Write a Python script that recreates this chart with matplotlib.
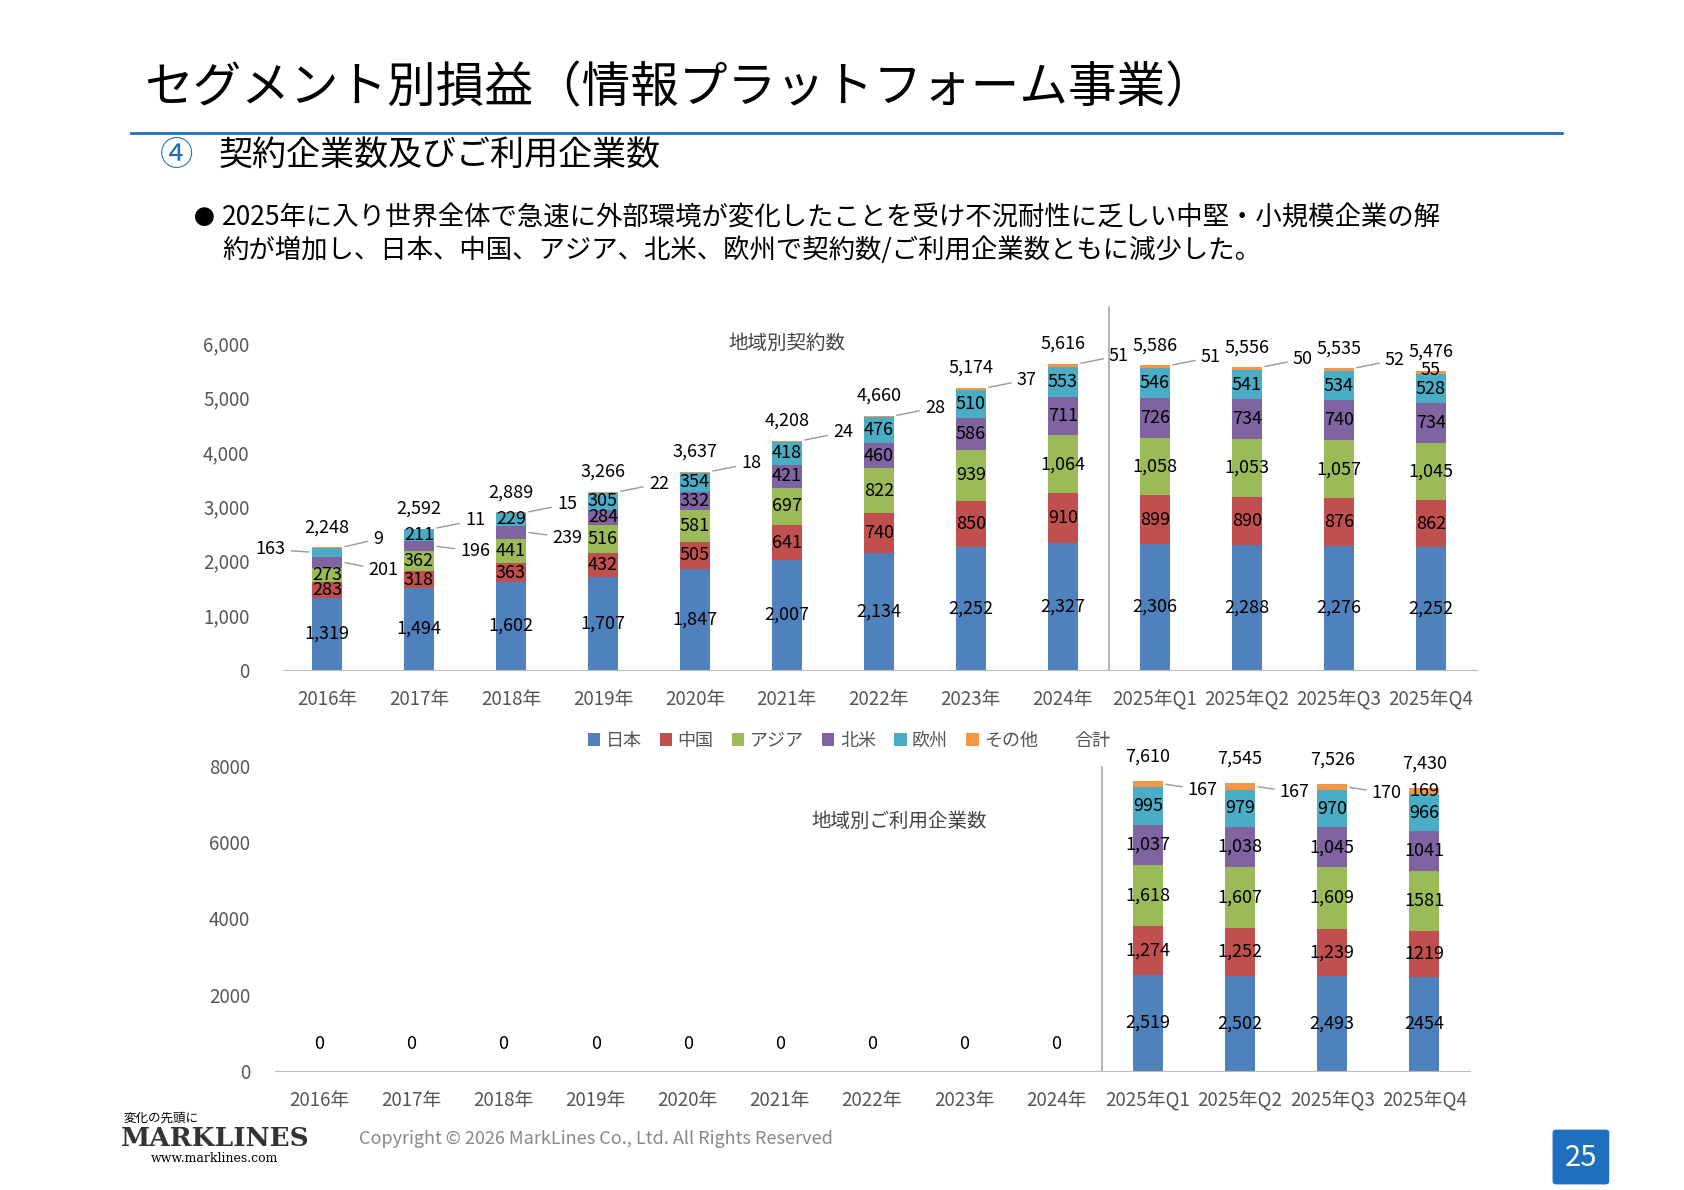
import numpy as np
import matplotlib
matplotlib.use('Agg')
import matplotlib.pyplot as plt
from matplotlib.patches import FancyBboxPatch

plt.rcParams['font.family'] = ['Noto Sans CJK JP', 'DejaVu Sans']

periods = ['2016年', '2017年', '2018年', '2019年', '2020年', '2021年', '2022年', '2023年', '2024年',
           '2025年Q1', '2025年Q2', '2025年Q3', '2025年Q4']
regions = ['日本', '中国', 'アジア', '北米', '欧州', 'その他']
colors = ['#4F81BD', '#C0504D', '#9BBB59', '#8064A2', '#4BACC6', '#F79646']

# 地域別契約数
c_japan = [1319, 1494, 1602, 1707, 1847, 2007, 2134, 2252, 2327, 2306, 2288, 2276, 2252]
c_china = [283, 318, 363, 432, 505, 641, 740, 850, 910, 899, 890, 876, 862]
c_asia = [273, 362, 441, 516, 581, 697, 822, 939, 1064, 1058, 1053, 1057, 1045]
c_na = [201, 196, 239, 284, 332, 421, 460, 586, 711, 726, 734, 740, 734]
c_eu = [163, 211, 229, 305, 354, 418, 476, 510, 553, 546, 541, 534, 528]
c_other = [9, 11, 15, 22, 18, 24, 28, 37, 51, 51, 50, 52, 55]
c_total = [2248, 2592, 2889, 3266, 3637, 4208, 4660, 5174, 5616, 5586, 5556, 5535, 5476]

# 地域別ご利用企業数
u_japan = [0] * 9 + [2519, 2502, 2493, 2454]
u_china = [0] * 9 + [1274, 1252, 1239, 1219]
u_asia = [0] * 9 + [1618, 1607, 1609, 1581]
u_na = [0] * 9 + [1037, 1038, 1045, 1041]
u_eu = [0] * 9 + [995, 979, 970, 966]
u_other = [0] * 9 + [167, 167, 170, 169]
u_total = [0] * 9 + [7610, 7545, 7526, 7430]
u_fmt = [True, True, True, False]  # Q4 without comma

W, H = 1560, 1100
fig = plt.figure(figsize=(16.84, 11.90), dpi=100)

def fx(px): return px / W
def fy(py): return 1 - py / H

fig.text(fx(133), fy(82), 'セグメント別損益（情報プラットフォーム事業）', fontsize=35, va='center')
fig.add_artist(plt.Line2D([fx(121), fx(1447)], [fy(123), fy(123)], color='#1F6FBF', lw=2))
fig.text(fx(148), fy(144), '④', fontsize=24, va='center', color='#1F6FBF')
fig.text(fx(203), fy(144), '契約企業数及びご利用企業数', fontsize=24.5, va='center')
fig.text(fx(180), fy(202), '●', fontsize=15, va='center')
fig.text(fx(206), fy(202), '2025年に入り世界全体で急速に外部環境が変化したことを受け不況耐性に乏しい中堅・小規模企業の解',
         fontsize=19, va='center')
fig.text(fx(206), fy(231), '約が増加し、日本、中国、アジア、北米、欧州で契約数/ご利用企業数ともに減少した。',
         fontsize=19, va='center')

x = np.arange(len(periods))
bw = 0.33
lfs = 13

# ---- top chart ----
ax1 = fig.add_axes([fx(262), fy(619), fx(1368) - fx(262), fy(317) - fy(619)])
series = [c_japan, c_china, c_asia, c_na, c_eu, c_other]
bottom = np.zeros(len(x))
for vals, col in zip(series, colors):
    ax1.bar(x, vals, bw, bottom=bottom, color=col)
    bottom += np.array(vals)
ax1.set_ylim(0, 6000)
ax1.set_xlim(-0.48, len(x) - 0.5)
ax1.set_yticks(range(0, 6001, 1000))
ax1.set_yticklabels([f'{v:,}' for v in range(0, 6001, 1000)])
ax1.set_xticks(x)
ax1.set_xticklabels(periods)
ax1.tick_params(length=0, labelsize=13.5, colors='#555555', pad=14)
ax1.tick_params(axis='y', pad=24)
for s in ['top', 'right', 'left']:
    ax1.spines[s].set_visible(False)
ax1.spines['bottom'].set_color('#BBBBBB')
ax1.text(5, 6000, '地域別契約数', ha='center', va='center', fontsize=14, color='#444444')
ax1.axvline(8.5, ymin=0, ymax=1.11, color='#AAAAAA', lw=1.2, clip_on=False)

outside = {(0, 3): (0.45, -150, 'left'), (0, 4): (-0.45, 50, 'right'),
           (1, 3): (0.45, -100, 'left'), (2, 3): (0.45, -100, 'left')}
for i in range(len(x)):
    base = 0
    for k, vals in enumerate(series[:5]):
        v = vals[i]
        yc = base + v / 2
        if (i, k) in outside:
            dx, dy, ha = outside[(i, k)]
            ax1.annotate(f'{v:,}', (x[i] + (bw / 2 if dx > 0 else -bw / 2), yc),
                         xytext=(x[i] + dx, yc + dy), ha=ha, va='center', fontsize=lfs,
                         arrowprops=dict(arrowstyle='-', color='#999999', lw=1))
        else:
            ax1.text(x[i], yc, f'{v:,}', ha='center', va='center', fontsize=lfs)
        base += v
    top = base + c_other[i]
    if i < 12:
        ax1.annotate(f'{c_other[i]}', (x[i] + bw / 2, top), xytext=(x[i] + 0.5, top + 150),
                     ha='left', va='center', fontsize=lfs,
                     arrowprops=dict(arrowstyle='-', color='#999999', lw=1))
    else:
        ax1.text(x[i], top + 30, f'{c_other[i]}', ha='center', va='center', fontsize=lfs)
    ax1.text(x[i], c_total[i] + 200, f'{c_total[i]:,}', ha='center', va='bottom', fontsize=lfs)

# ---- bottom chart ----
ax2 = fig.add_axes([fx(255), fy(990), fx(1362) - fx(255), fy(708) - fy(990)])
useries = [u_japan, u_china, u_asia, u_na, u_eu, u_other]
bottom = np.zeros(len(x))
for vals, col, name in zip(useries, colors, regions):
    ax2.bar(x, vals, bw, bottom=bottom, color=col, label=name)
    bottom += np.array(vals)
ax2.set_ylim(0, 8000)
ax2.set_xlim(-0.48, len(x) - 0.5)
ax2.set_yticks(range(0, 8001, 2000))
ax2.set_xticks(x)
ax2.set_xticklabels(periods)
ax2.tick_params(length=0, labelsize=13.5, colors='#555555', pad=14)
ax2.tick_params(axis='y', pad=18)
for s in ['top', 'right', 'left']:
    ax2.spines[s].set_visible(False)
ax2.spines['bottom'].set_color('#BBBBBB')
ax2.text(6.3, 6550, '地域別ご利用企業数', ha='center', va='center', fontsize=14, color='#444444')
ax2.axvline(8.5, ymin=0, ymax=1.0, color='#AAAAAA', lw=1.2)
h, l = ax2.get_legend_handles_labels()
h.append(plt.Rectangle((0, 0), 0, 0, color='none'))
l.append('合計')
ax2.legend(h, l, ncol=7, loc='lower center', bbox_to_anchor=(0.48, 1.0), frameon=False,
           fontsize=13, handlelength=0.7, handletextpad=0.3, columnspacing=1.0, labelcolor='#555555')

for i in range(len(x)):
    if u_total[i] == 0:
        ax2.text(x[i], 700, '0', ha='center', va='center', fontsize=lfs)
        continue
    base = 0
    comma = u_fmt[i - 9]
    for vals in useries[:5]:
        v = vals[i]
        ax2.text(x[i], base + v / 2, f'{v:,}' if comma else f'{v}', ha='center', va='center', fontsize=lfs)
        base += v
    top = base + u_other[i]
    if i < 12:
        ax2.annotate(f'{u_other[i]}', (x[i] + bw / 2, top - 80), xytext=(x[i] + 0.43, top - 240),
                     ha='left', va='center', fontsize=lfs,
                     arrowprops=dict(arrowstyle='-', color='#999999', lw=1))
    else:
        ax2.text(x[i], top - 80, f'{u_other[i]}', ha='center', va='center', fontsize=lfs)
    ax2.text(x[i], u_total[i] + 400, f'{u_total[i]:,}', ha='center', va='bottom', fontsize=lfs)

# footer
fig.text(fx(114), fy(1034), '変化の先頭に', fontsize=9, va='center')
fig.text(fx(112), fy(1052), 'MARKLINES', fontsize=19, va='center', fontweight='bold', color='#333333',
         family='DejaVu Serif')
fig.text(fx(140), fy(1071), 'www.marklines.com', fontsize=9, va='center', family='DejaVu Serif')
fig.text(fx(333), fy(1053), 'Copyright © 2026 MarkLines Co., Ltd. All Rights Reserved', fontsize=13,
         va='center', color='#888888')
box = FancyBboxPatch((fx(1442), fy(1092)), fx(45), fy(1047) - fy(1092), boxstyle='round,pad=0.002',
                     transform=fig.transFigure, color='#1F6FBF')
fig.add_artist(box)
fig.text(fx(1464.5), fy(1070), '25', fontsize=21, color='white', ha='center', va='center')

fig.savefig('out.png', dpi=100)
